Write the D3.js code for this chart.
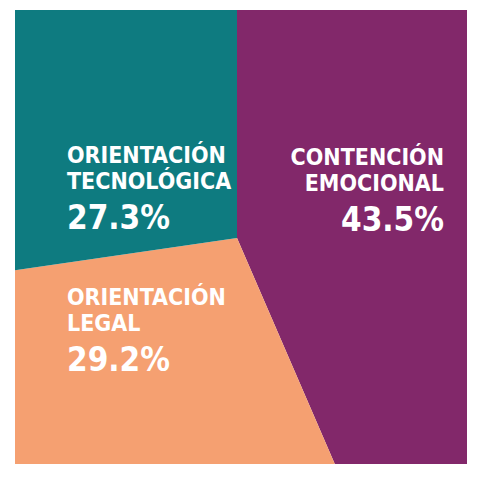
<!DOCTYPE html>
<html><head><meta charset="utf-8">
<script src="https://cdn.jsdelivr.net/npm/d3@7"></script>
<style>body{margin:0;background:#fff}text{font-family:"Liberation Sans Narrow","DejaVu Sans Condensed",sans-serif;font-weight:bold;fill:#fff}</style>
</head><body>
<svg id="chart" width="477" height="477"></svg>
<script>
// slices in clockwise order from the top
var categories = ["CONTENCIÓN EMOCIONAL", "ORIENTACIÓN LEGAL", "ORIENTACIÓN TECNOLÓGICA"];
var values = [43.5, 29.2, 27.3];
var colors = ["#82286a", "#f5a071", "#0e7b80"];
var labelLines = [["CONTENCIÓN", "EMOCIONAL"], ["ORIENTACIÓN", "LEGAL"], ["ORIENTACIÓN", "TECNOLÓGICA"]];

var svg = d3.select("#chart");
var box = {x: 15, y: 10, w: 452, h: 454};
var cx = 237, cy = 238;

svg.append("clipPath").attr("id", "box").append("rect")
  .attr("x", box.x).attr("y", box.y).attr("width", box.w).attr("height", box.h);

var pie = d3.pie().sort(null).value(function(d) { return d; });
var arc = d3.arc().innerRadius(0).outerRadius(600);

// clip on the outer group so the rect stays in page coordinates
svg.append("g").attr("clip-path", "url(#box)")
  .append("g").attr("transform", "translate(" + cx + "," + cy + ")")
  .selectAll("path").data(pie(values)).enter().append("path")
  .attr("d", arc).attr("fill", function(d, i) { return colors[i]; });

// label positions
var labelPos = [{x: 444, y: 165, anchor: "end"}, {x: 67, y: 305, anchor: "start"}, {x: 67, y: 163, anchor: "start"}];

labelPos.forEach(function(p, i) {
  var g = svg.append("g").attr("text-anchor", p.anchor);
  labelLines[i].forEach(function(line, j) {
    g.append("text").attr("x", p.x).attr("y", p.y + j * 26)
      .style("font-size", "23px").text(line);
  });
  g.append("text").attr("x", p.x).attr("y", p.y + 66)
    .style("font-size", "33px").text(values[i].toFixed(1) + "%");
});
</script>
</body></html>
